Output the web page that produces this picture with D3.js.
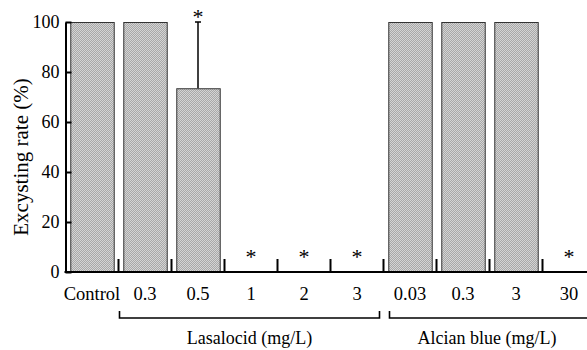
<!DOCTYPE html>
<html><head><meta charset="utf-8">
<script src="https://cdn.jsdelivr.net/npm/d3@7"></script>
<style>body{margin:0;background:#fff}svg{display:block}text{font-family:"Liberation Serif","Times New Roman",serif;fill:#000}</style>
</head><body>
<script>
const categories = ["Control","0.3","0.5","1","2","3","0.03","0.3","3","30"];
const values = [100,100,73.5,0,0,0,100,100,100,0];
const errors = [0,0,26.5,0,0,0,0,0,0,0];
const significant = [false,false,true,true,true,true,false,false,false,true];
const groupNames = ["Lasalocid (mg/L)","Alcian blue (mg/L)"];
const groupFrom = [1,6];
const groupTo = [5,9];
const yTicks = [0,20,40,60,80,100];
const yLabel = "Excysting rate (%)";

const W=587,H=350;
const svg=d3.select("body").append("svg").attr("width",W).attr("height",H);
const defs=svg.append("defs");
const pat=defs.append("pattern").attr("id","dots").attr("patternUnits","userSpaceOnUse").attr("width",2).attr("height",2);
pat.append("rect").attr("width",2).attr("height",2).attr("fill","#a8a8a8");
pat.append("rect").attr("width",1).attr("height",1).attr("fill","#d4d4d4");
pat.append("rect").attr("x",1).attr("y",1).attr("width",1).attr("height",1).attr("fill","#d4d4d4");

const idx=categories.map((d,i)=>i);
const x0=65.5, x1=595.5;
const xb=d3.scaleBand().domain(idx).range([x0,x1]).padding(0);
const x=d3.scaleBand().domain(idx).range([x0,x1]).paddingInner(0.18).paddingOuter(0.09);
const y=d3.scaleLinear().domain([0,100]).range([272,22]);

// bars
svg.append("g").selectAll("rect").data(idx.filter(i=>values[i]>0)).join("rect")
  .attr("x",i=>x(i)+0.5).attr("y",i=>y(values[i])+0.5)
  .attr("width",x.bandwidth()).attr("height",i=>y(0)-y(values[i]))
  .attr("fill","url(#dots)").attr("stroke","#333").attr("stroke-width",1);

// error bars
const eg=svg.append("g").attr("stroke","#000").attr("stroke-width",1.5);
idx.filter(i=>errors[i]>0).forEach(i=>{
  const cx=x(i)+x.bandwidth()/2;
  eg.append("line").attr("x1",cx).attr("x2",cx).attr("y1",y(values[i])).attr("y2",y(values[i]+errors[i]));
  eg.append("line").attr("x1",cx-3).attr("x2",cx+3).attr("y1",y(values[i]+errors[i])).attr("y2",y(values[i]+errors[i]));
});

// asterisks
svg.append("g").selectAll("text").data(idx.filter(i=>significant[i])).join("text")
  .attr("x",i=>x(i)+x.bandwidth()/2)
  .attr("y",i=>y(values[i]+errors[i])+(values[i]+errors[i]>0?2:-8))
  .attr("text-anchor","middle").attr("font-size",22).text("*");

// y axis
const ya=svg.append("g").attr("transform",`translate(${x0},0)`)
  .call(d3.axisLeft(y).tickValues(yTicks).tickSize(-6).tickPadding(6).tickSizeOuter(0));
ya.select(".domain").attr("stroke-width",2);
ya.selectAll(".tick line").attr("stroke-width",2);
ya.selectAll("text").attr("font-size",18).attr("font-family","Liberation Serif");

// x axis line
svg.append("line").attr("x1",x0-1).attr("x2",W).attr("y1",y(0)).attr("y2",y(0)).attr("stroke","#000").attr("stroke-width",2);
// separators
svg.append("g").selectAll("line").data(idx.slice(1)).join("line")
  .attr("x1",i=>xb(i)).attr("x2",i=>xb(i)).attr("y1",y(0)).attr("y2",y(0)-13)
  .attr("stroke","#000").attr("stroke-width",2);
// x labels
svg.append("g").selectAll("text").data(idx).join("text")
  .attr("x",i=>xb(i)+xb.bandwidth()/2).attr("y",300)
  .attr("text-anchor","middle").attr("font-size",18.5).text(i=>categories[i]);

// group brackets
groupNames.forEach((g,k)=>{
  const a=xb(groupFrom[k])+(k===0?1:6), b=Math.min(xb(groupTo[k])+xb.bandwidth()-4,W+5);
  svg.append("path").attr("d",`M${a},311V318H${b}V311`).attr("fill","none").attr("stroke","#000").attr("stroke-width",1.6);
  svg.append("text").attr("x",k===0?(a+b)/2:487).attr("y",344).attr("text-anchor","middle").attr("font-size",18).text(g);
});

// y label
svg.append("text").attr("transform","translate(28,157) rotate(-90)").attr("text-anchor","middle").attr("font-size",21).text(yLabel);
</script>
</body></html>
